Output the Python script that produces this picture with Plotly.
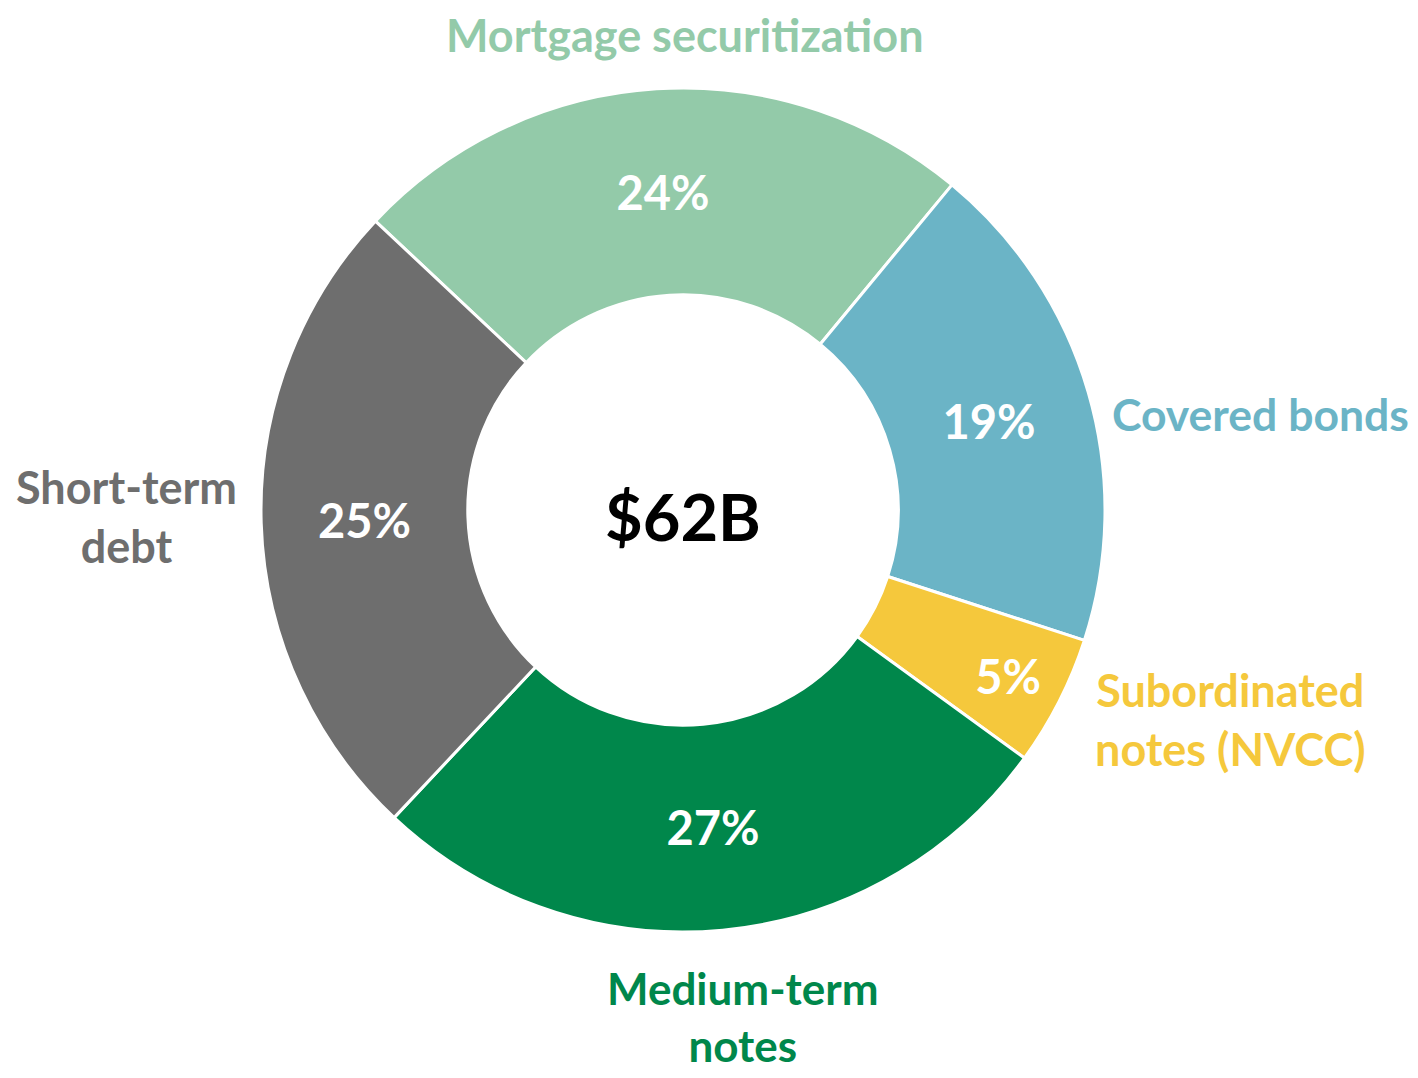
import plotly.graph_objects as go

labels = ["Mortgage securitization", "Covered bonds", "Subordinated notes (NVCC)", "Medium-term notes", "Short-term debt"]
label_text = ["Mortgage securitization", "Covered bonds", "Subordinated<br>notes (NVCC)", "Medium-term<br>notes", "Short-term<br>debt"]
values = [24, 19, 5, 27, 25]
colors = ["#93CAA9", "#6BB4C6", "#F5C83C", "#00874B", "#6E6E6E"]
center_label = "$62B"

OFF = 8  # page body margin
W, H = 1418 - 2 * OFF, 1078 - 2 * OFF
cx, cy, R = 683 - OFF, 510 - OFF, 422


def px_x(x):
    return (x - OFF) / W


def px_y(y):
    return 1 - (y - OFF) / H


fig = go.Figure(go.Pie(
    labels=labels,
    values=values,
    sort=False,
    direction="clockwise",
    rotation=-46.8,
    hole=0.51,
    marker=dict(colors=colors, line=dict(color="white", width=3)),
    texttemplate="%{percent:.0%}",
    textposition="inside",
    insidetextorientation="horizontal",
    textfont=dict(family="Lato", size=47, color="white", weight="bold"),
    showlegend=False,
    hoverinfo="label+percent",
    domain=dict(x=[(cx - R) / W, (cx + R) / W], y=[(H - cy - R) / H, (H - cy + R) / H]),
))

label_pos = [(685, 35), (1260, 413), (1230, 719), (743, 1016), (126, 516)]
label_size = [45, 44.5, 45, 44, 45]
annos = []
for txt, col, (px, py), sz in zip(label_text, colors, label_pos, label_size):
    annos.append(dict(text="<b>" + txt + "</b>", x=px_x(px), y=px_y(py), xref="paper", yref="paper",
                      showarrow=False, xanchor="center", yanchor="middle",
                      font=dict(family="Lato", size=sz, color=col)))
annos.append(dict(text="<b>" + center_label + "</b>", x=px_x(683), y=px_y(516), xref="paper", yref="paper",
                  showarrow=False, xanchor="center", yanchor="middle",
                  font=dict(family="Lato", size=65, color="black")))

fig.update_layout(
    width=W, height=H,
    margin=dict(l=0, r=0, t=0, b=0),
    paper_bgcolor="white", plot_bgcolor="white",
    uniformtext=dict(minsize=47, mode="show"),
    annotations=annos,
)
fig.write_html("out.html")
